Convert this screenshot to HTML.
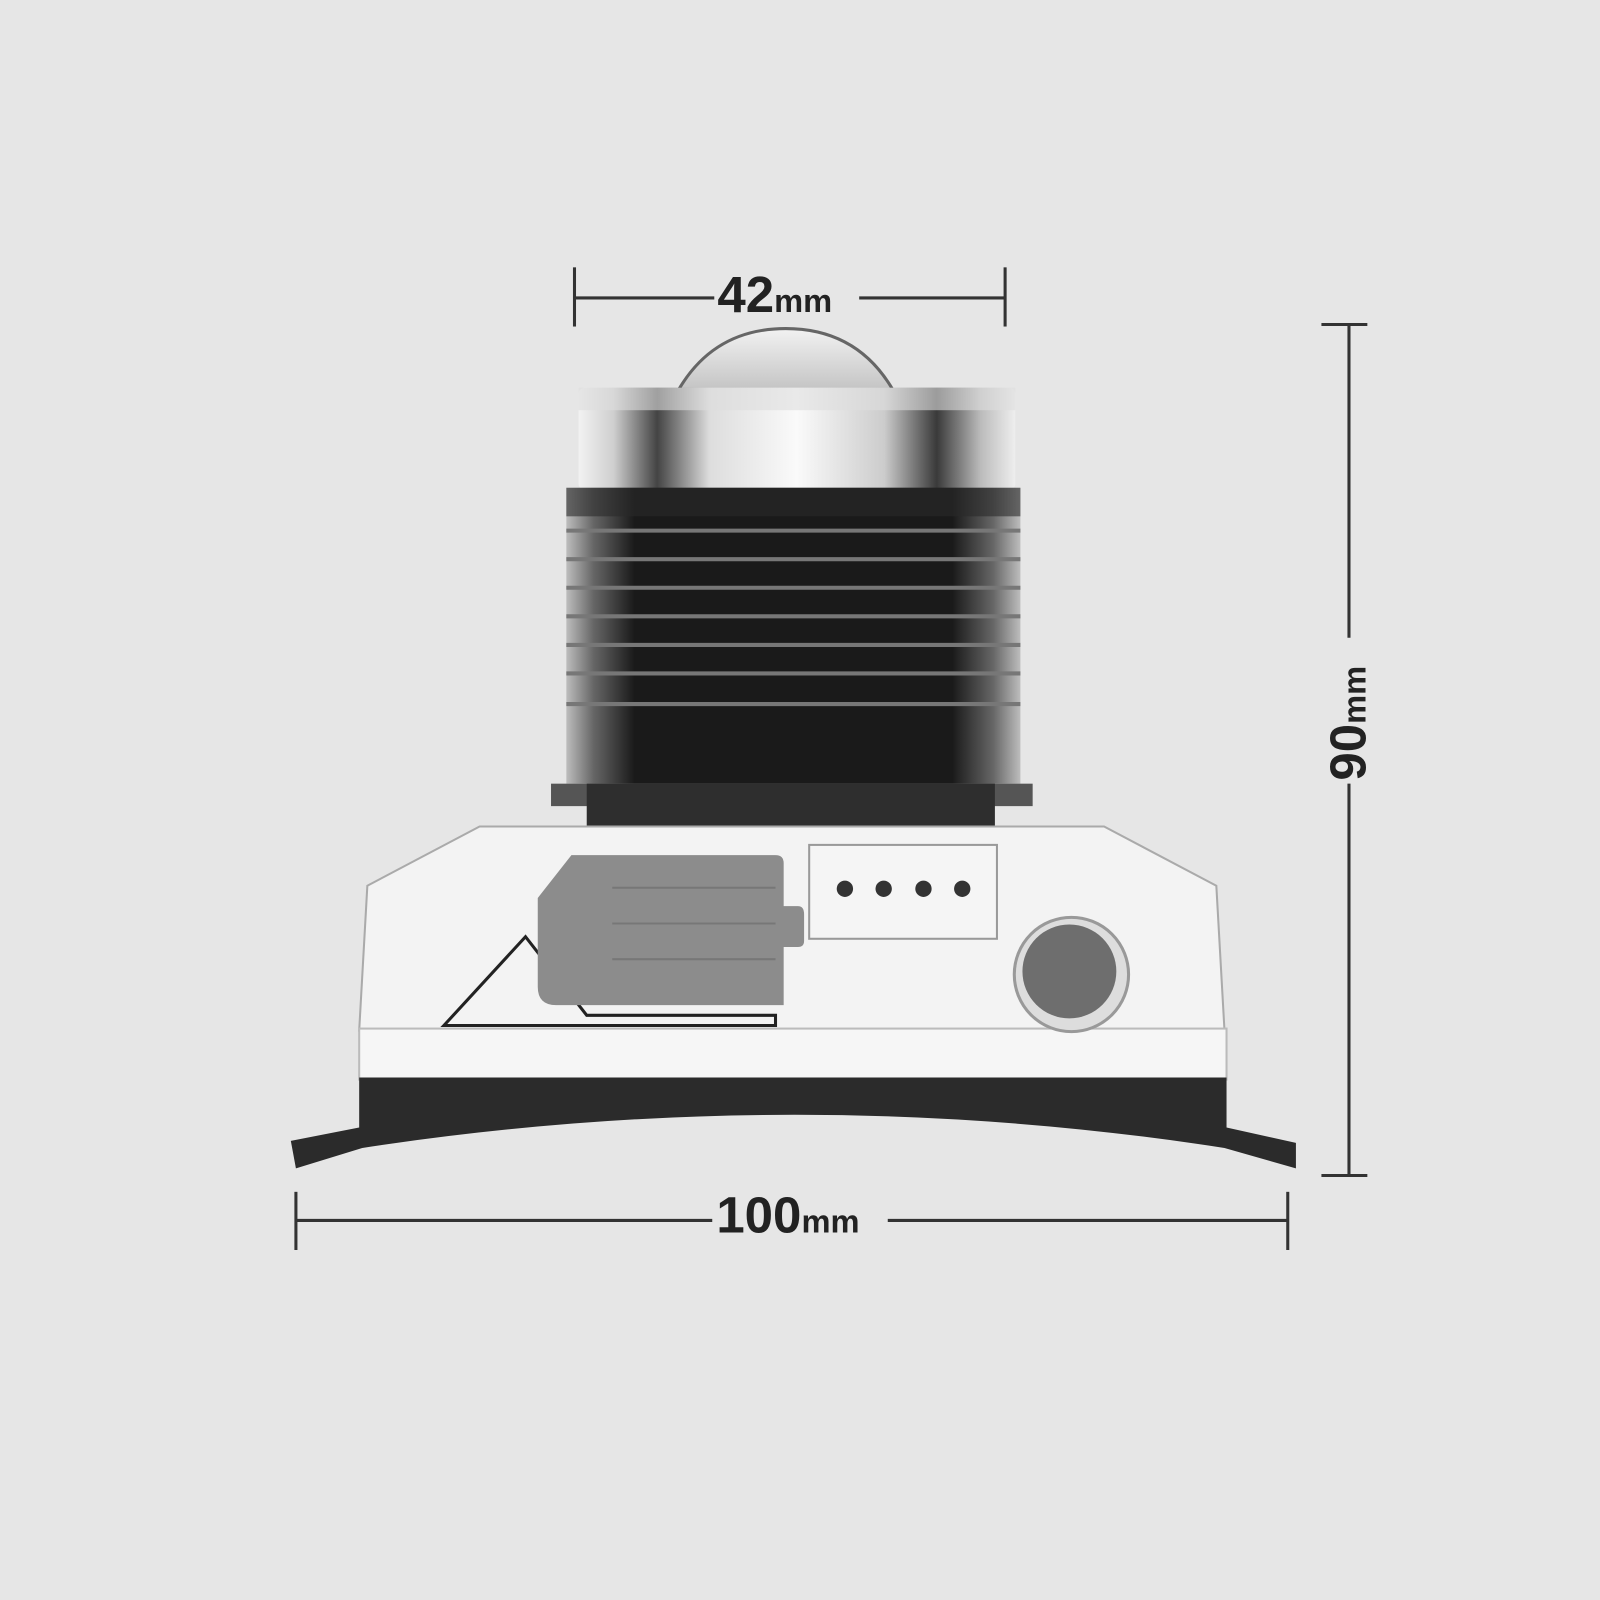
<!DOCTYPE html>
<html><head><meta charset="utf-8"><style>html,body{margin:0;padding:0;background:#e6e6e6}svg{display:block}</style></head><body>
<svg width="1600" height="1600" viewBox="0 0 1568 1568" xmlns="http://www.w3.org/2000/svg">
<defs>
<linearGradient id="silver" x1="0" x2="1" y1="0" y2="0">
<stop offset="0" stop-color="#f2f2f2"/><stop offset="0.08" stop-color="#cfcfcf"/><stop offset="0.18" stop-color="#444"/><stop offset="0.3" stop-color="#ddd"/><stop offset="0.5" stop-color="#fafafa"/><stop offset="0.7" stop-color="#ccc"/><stop offset="0.82" stop-color="#3a3a3a"/><stop offset="0.92" stop-color="#bbb"/><stop offset="1" stop-color="#eee"/>
</linearGradient>
<linearGradient id="blk" x1="0" x2="1" y1="0" y2="0">
<stop offset="0" stop-color="#bdbdbd"/><stop offset="0.06" stop-color="#666"/><stop offset="0.15" stop-color="#1a1a1a"/><stop offset="0.85" stop-color="#1a1a1a"/><stop offset="0.94" stop-color="#666"/><stop offset="1" stop-color="#bdbdbd"/>
</linearGradient>
<linearGradient id="lens" x1="0" x2="0" y1="0" y2="1"><stop offset="0" stop-color="#f2f2f2"/><stop offset="1" stop-color="#c4c4c4"/></linearGradient>
</defs>
<rect width="1568" height="1568" fill="#e6e6e6"/>
<g stroke="#333" stroke-width="3" fill="none">
<line x1="563" y1="292" x2="700" y2="292"/><line x1="842" y1="292" x2="985" y2="292"/>
<line x1="563" y1="262" x2="563" y2="320"/><line x1="985" y1="262" x2="985" y2="320"/>
<line x1="1322" y1="318" x2="1322" y2="625"/><line x1="1322" y1="768" x2="1322" y2="1152"/>
<line x1="1295" y1="318" x2="1340" y2="318"/><line x1="1295" y1="1152" x2="1340" y2="1152"/>
<line x1="290" y1="1196" x2="698" y2="1196"/><line x1="870" y1="1196" x2="1262" y2="1196"/>
<line x1="290" y1="1168" x2="290" y2="1225"/><line x1="1262" y1="1168" x2="1262" y2="1225"/>
</g>
<g font-family="Liberation Sans, sans-serif" fill="#222" font-weight="bold">
<text x="703" y="306" font-size="50">42<tspan font-size="32">mm</tspan></text>
<text x="702" y="1208" font-size="50">100<tspan font-size="32">mm</tspan></text>
<text transform="translate(1338,765) rotate(-90)" font-size="50">90<tspan font-size="32">mm</tspan></text>
</g>
<path d="M665 382 Q700 322 770 322 Q840 322 875 382 Z" fill="url(#lens)" stroke="#666" stroke-width="3"/>
<rect x="567" y="380" width="428" height="100" rx="6" fill="url(#silver)"/>
<rect x="567" y="380" width="428" height="22" fill="#ddd" opacity="0.6"/>
<rect x="555" y="478" width="445" height="290" fill="url(#blk)"/>
<g stroke="#777" stroke-width="4">
<line x1="555" y1="520" x2="1000" y2="520"/><line x1="555" y1="548" x2="1000" y2="548"/>
<line x1="555" y1="576" x2="1000" y2="576"/><line x1="555" y1="604" x2="1000" y2="604"/>
<line x1="555" y1="632" x2="1000" y2="632"/><line x1="555" y1="660" x2="1000" y2="660"/>
<line x1="555" y1="690" x2="1000" y2="690"/>
</g>
<rect x="555" y="478" width="445" height="28" fill="#2a2a2a" opacity="0.6"/>
<rect x="540" y="768" width="472" height="22" fill="#555"/>
<rect x="575" y="768" width="400" height="42" fill="#2e2e2e"/>
<path d="M470 810 L1082 810 L1192 868 L1200 1010 L352 1010 L360 868 Z" fill="#f3f3f3" stroke="#aaa" stroke-width="2"/>
<rect x="352" y="1008" width="850" height="50" fill="#f6f6f6" stroke="#bbb" stroke-width="2"/>
<path d="M352 1056 L1202 1056 L1202 1105 L1270 1120 L1270 1145 L1200 1125 Q780 1060 355 1125 L290 1145 L285 1118 L352 1105 Z" fill="#2b2b2b"/>
<path d="M435 1005 L515 918 L575 995 L760 995 L760 1005 Z" fill="none" stroke="#222" stroke-width="3"/>
<path d="M560 838 L760 838 Q768 838 768 846 L768 888 L782 888 Q788 888 788 896 L788 922 Q788 928 782 928 L768 928 L768 985 L545 985 Q527 985 527 967 L527 880 Z" fill="#8c8c8c"/>
<g stroke="#777" stroke-width="2"><line x1="600" y1="870" x2="760" y2="870"/><line x1="600" y1="905" x2="760" y2="905"/><line x1="600" y1="940" x2="760" y2="940"/></g>
<rect x="793" y="828" width="184" height="92" fill="#f5f5f5" stroke="#999" stroke-width="2"/>
<g fill="#333"><circle cx="828" cy="871" r="8"/><circle cx="866" cy="871" r="8"/><circle cx="905" cy="871" r="8"/><circle cx="943" cy="871" r="8"/></g>
<circle cx="1050" cy="955" r="56" fill="#ddd" stroke="#999" stroke-width="3"/>
<circle cx="1048" cy="952" r="46" fill="#6e6e6e"/>
</svg>
</body></html>
